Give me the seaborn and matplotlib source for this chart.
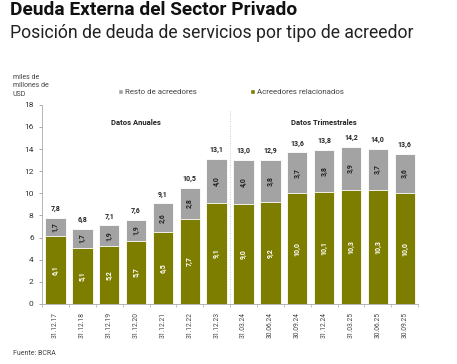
import matplotlib
matplotlib.use("Agg")
import matplotlib.pyplot as plt
import seaborn as sns
import pandas as pd
import numpy as np
from matplotlib.patches import Patch

categorias = ["31.12.17", "31.12.18", "31.12.19", "31.12.20", "31.12.21", "31.12.22", "31.12.23",
              "31.03.24", "30.06.24", "30.09.24", "31.12.24", "31.03.25", "30.06.25", "30.09.25"]
relacionados = [6.1, 5.1, 5.2, 5.7, 6.5, 7.7, 9.1, 9.0, 9.2, 10.0, 10.1, 10.3, 10.3, 10.0]
resto = [1.7, 1.7, 1.9, 1.9, 2.6, 2.8, 4.0, 4.0, 3.8, 3.7, 3.8, 3.9, 3.7, 3.6]
totales = [7.8, 6.8, 7.1, 7.6, 9.1, 10.5, 13.1, 13.0, 12.9, 13.6, 13.8, 14.2, 14.0, 13.6]
yticks = [0, 2, 4, 6, 8, 10, 12, 14, 16, 18]

sns.set_theme(style="white")
plt.rcParams['font.family'] = ['Roboto', 'DejaVu Sans']

OLIVE = "#7d7d00"
GRAY = "#a3a3a3"

df = pd.DataFrame({"fecha": categorias, "rel": relacionados, "resto": resto, "total": totales})
df["stack"] = df["rel"] + df["resto"]

fig = plt.figure(figsize=(4.57, 3.64), dpi=100)
ax = fig.add_axes([0.092, 0.165, 0.823, 0.547])

sns.barplot(data=df, x="fecha", y="stack", color=GRAY, width=0.76, ax=ax,
            edgecolor="white", linewidth=0.6, saturation=1)
sns.barplot(data=df, x="fecha", y="rel", color=OLIVE, width=0.76, ax=ax,
            edgecolor="white", linewidth=0.6, saturation=1)

def fmt(v):
    return f"{v:.1f}".replace(".", ",")

for i, (r, s, t) in enumerate(zip(relacionados, resto, totales)):
    ax.text(i, r / 2, fmt(r), rotation=90, ha="center", va="center", color="white",
            fontsize=5, fontweight="bold")
    ax.text(i, r + s / 2, fmt(s), rotation=90, ha="center", va="center", color="#222222",
            fontsize=5, fontweight="bold")
    ax.text(i, r + s + 0.45, fmt(t), ha="center", va="bottom", color="#222222",
            fontsize=5, fontweight="bold")

ax.set_ylim(0, 18)
ax.set_xlim(-0.5, 13.5)
ax.set_yticks(yticks)
ax.set_yticklabels([str(v) for v in yticks], fontsize=6, color="#333333")
ax.set_xticks(range(len(categorias)))
ax.set_xticklabels(categorias, rotation=90, fontsize=4.8, color="#444444")
ax.tick_params(axis="x", length=0, pad=6)
ax.tick_params(axis="y", length=2, width=0.5, color="#888888", pad=4, left=True)
ax.set_xticks(np.arange(-0.5, 13.6, 1), minor=True)
ax.tick_params(axis="x", which="minor", length=2, width=0.5, color="#aaaaaa", bottom=True)
ax.set_xlabel("")
ax.set_ylabel("")
for sp in ["top", "right"]:
    ax.spines[sp].set_visible(False)
for sp in ["left", "bottom"]:
    ax.spines[sp].set_color("#aaaaaa")
    ax.spines[sp].set_linewidth(0.6)

ax.axvline(6.5, ymin=0, ymax=0.97, color="#cccccc", linestyle=(0, (1, 1.5)), linewidth=0.7,
           clip_on=False)
ax.text(3.0, 16.4, "Datos Anuales", ha="center", va="center", fontsize=5.5, fontweight="bold",
        color="#222222")
ax.text(10.0, 16.4, "Datos Trimestrales", ha="center", va="center", fontsize=5.5,
        fontweight="bold", color="#222222")

handles = [Patch(facecolor=GRAY, label="Resto de acreedores"),
           Patch(facecolor=OLIVE, label="Acreedores relacionados")]
leg = fig.legend(handles=handles, loc="center left", bbox_to_anchor=(0.258, 0.748), ncol=2,
                 frameon=False, fontsize=5.7, handlelength=0.6, handleheight=0.6,
                 handletextpad=0.25, columnspacing=6.8, borderpad=0, borderaxespad=0)
for t in leg.get_texts():
    t.set_color("#444444")

fig.text(0.028, 0.765, "miles de\nmillones de\nUSD", fontsize=5, color="#444444",
         va="center", ha="left", linespacing=1.3)

fig.text(0.022, 0.972, "Deuda Externa del Sector Privado", fontsize=13.8, fontweight="bold",
         color="#111111", va="center", ha="left")
fig.text(0.022, 0.91, "Posición de deuda de servicios por tipo de acreedor", fontsize=12.7,
         color="#222222", va="center", ha="left")
fig.text(0.028, 0.03, "Fuente: BCRA", fontsize=5, color="#444444", va="center", ha="left")

fig.savefig("out.png", dpi=100, facecolor="white")
